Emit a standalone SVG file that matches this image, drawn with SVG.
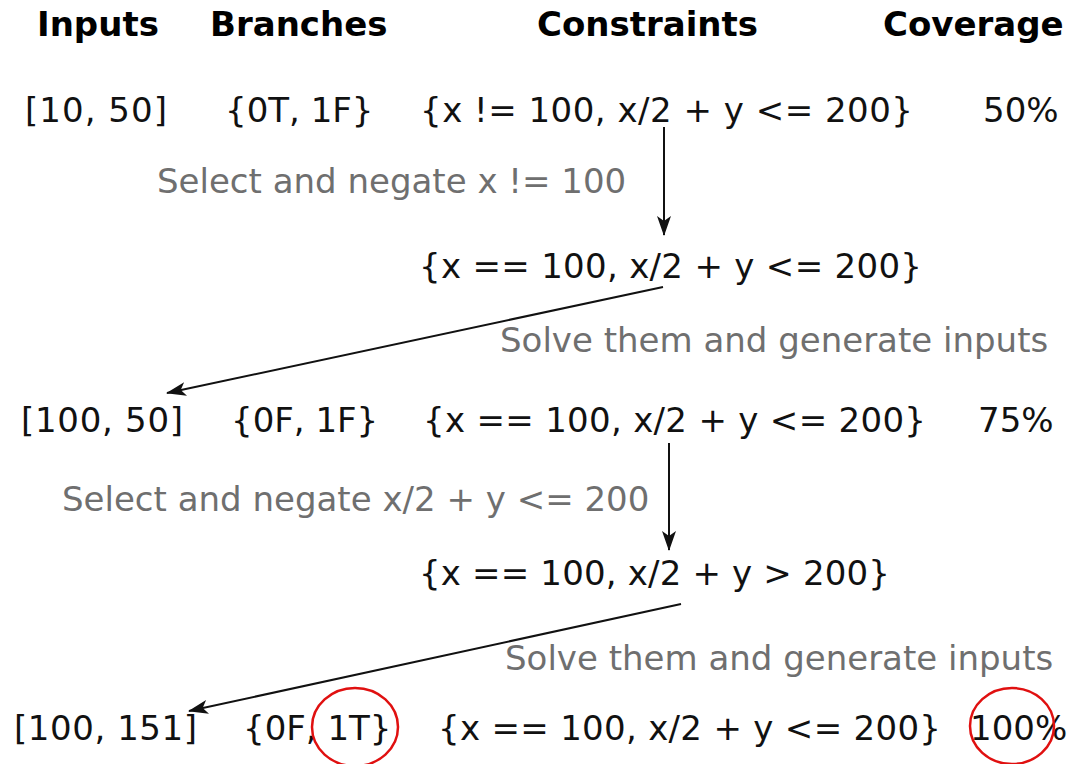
<svg xmlns="http://www.w3.org/2000/svg" width="1067" height="764" viewBox="0 0 1067 764">
<defs>
<style>
text{font-family:"DejaVu Sans","Verdana",sans-serif;font-size:34px;fill:#111}
.h{font-weight:bold;fill:#000}
.g{fill:#6f6f6f}
.c{stroke:#111;stroke-width:2;fill:none}
.r{stroke:#e01010;stroke-width:2.5;fill:none}
</style>
<marker id="ah" viewBox="0 0 20 14" refX="19" refY="7" markerWidth="20" markerHeight="14" markerUnits="userSpaceOnUse" orient="auto">
<path d="M0,0 L20,7 L0,14 L5,7 z" fill="#111"/>
</marker>
</defs>
<rect width="1067" height="764" fill="#fff"/>
<g id="headers">
<text class="h" x="37" y="36">Inputs</text>
<text class="h" x="210" y="36">Branches</text>
<text class="h" x="537" y="36">Constraints</text>
<text class="h" x="883" y="36">Coverage</text>
</g>
<g id="row1">
<text x="25" y="122" textLength="142" lengthAdjust="spacing">[10, 50]</text>
<text x="225" y="122">{0T, 1F}</text>
<text x="420" y="122" textLength="493" lengthAdjust="spacing">{x != 100, x/2 + y &lt;= 200}</text>
<text x="983" y="122">50%</text>
</g>
<g id="step1">
<text class="g" x="157" y="193">Select and negate x != 100</text>
</g>
<g id="neg1">
<text x="419" y="278" textLength="503" lengthAdjust="spacing">{x == 100, x/2 + y &lt;= 200}</text>
</g>
<g id="solve1">
<text class="g" x="500" y="352">Solve them and generate inputs</text>
</g>
<g id="row2">
<text x="21" y="432" textLength="162" lengthAdjust="spacing">[100, 50]</text>
<text x="231" y="432">{0F, 1F}</text>
<text x="423" y="432" textLength="503" lengthAdjust="spacing">{x == 100, x/2 + y &lt;= 200}</text>
<text x="978" y="432">75%</text>
</g>
<g id="step2">
<text class="g" x="62" y="511">Select and negate x/2 + y &lt;= 200</text>
</g>
<g id="neg2">
<text x="419" y="585" textLength="471" lengthAdjust="spacing">{x == 100, x/2 + y &gt; 200}</text>
</g>
<g id="solve2">
<text class="g" x="505" y="670">Solve them and generate inputs</text>
</g>
<g id="row3">
<text x="14" y="740" textLength="183" lengthAdjust="spacing">[100, 151]</text>
<text x="243" y="740">{0F, 1T}</text>
<text x="438" y="740" textLength="503" lengthAdjust="spacing">{x == 100, x/2 + y &lt;= 200}</text>
<text x="970" y="740">100%</text>
</g>
<g id="connectors">
<line class="c" x1="664" y1="127" x2="664" y2="235" marker-end="url(#ah)"/>
<line class="c" x1="663" y1="287" x2="167" y2="393" marker-end="url(#ah)"/>
<line class="c" x1="669" y1="443" x2="669" y2="550" marker-end="url(#ah)"/>
<line class="c" x1="681" y1="604" x2="189" y2="711" marker-end="url(#ah)"/>
</g>
<g id="highlights">
<ellipse class="r" cx="355" cy="727" rx="43" ry="39"/>
<ellipse class="r" cx="1012" cy="726" rx="42" ry="38"/>
</g>
</svg>
